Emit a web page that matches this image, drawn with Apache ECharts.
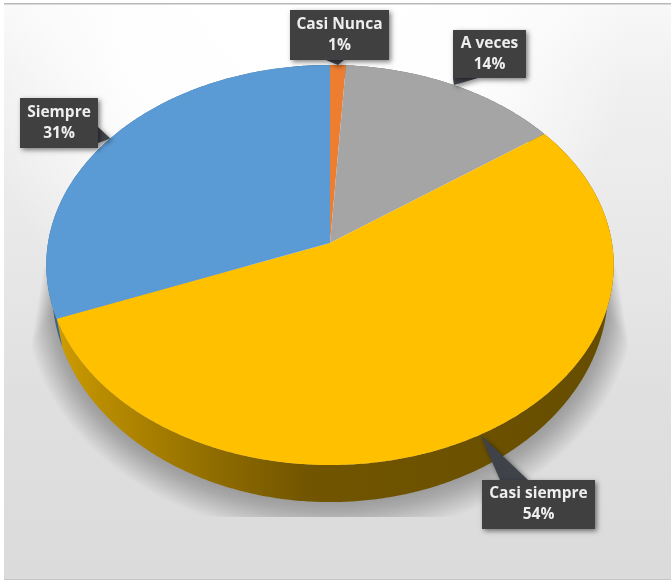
<!DOCTYPE html>
<html>
<head>
<meta charset="utf-8">
<style>html,body{margin:0;padding:0;background:#fff}#chart{width:671px;height:581px}</style>
<script src="https://cdn.jsdelivr.net/npm/echarts@6/dist/echarts.min.js"></script>
</head>
<body>
<div id="chart"></div>
<script>
// Survey answers, clockwise from twelve o'clock
const categories = ['Casi Nunca', 'A veces', 'Casi siempre', 'Siempre'];
const percentages = [1, 14, 54, 31];
const sliceColors = ['#ED7D31', '#A5A5A5', '#FFC000', '#5B9BD5'];

// Perspective disc: the tilted top face and the smaller bottom face
const TILT = 0.11;
const topFace = { cx: 330, cy: 243, a: 282, b: 197.6 };
const bottomFace = { cx: 330, cy: 266.7, a: 276.3, b: 209.5 };

// Callout boxes around the disc, with the base of each pointer
const callouts = [
  { x: 290, y: 10, w: 99, h: 50, base: [[326, 60], [344, 60]] },
  { x: 453, y: 30, w: 73, h: 48, base: [[478, 78], [453, 78]] },
  { x: 482, y: 480, w: 113, h: 49, base: [[500, 480], [528, 480]] },
  { x: 20, y: 98, w: 78, h: 50, base: [[98, 127], [98, 143]] }
];

const total = percentages.reduce((s, v) => s + v, 0);
let running = 0;
const sliceRows = percentages.map((v, i) => {
  const start = running / total * 360;
  running += v;
  return [start, running / total * 360, i];
});

function project(face, deg) {
  const t = deg * Math.PI / 180;
  const u = Math.sin(t), v = -Math.cos(t);
  const w = 1 - TILT * v;
  return [face.cx + face.a * u / w, face.cy + face.b * v / w];
}

function arc(face, from, to) {
  const pts = [];
  const n = Math.max(2, Math.ceil((to - from) * 2));
  for (let k = 0; k <= n; k++) pts.push(project(face, from + (to - from) * k / n));
  return pts;
}

const sideFills = [
  '#8a4a1c',
  '#666666',
  new echarts.graphic.LinearGradient(57, 0, 613, 0, [
    { offset: 0, color: '#cf9c00' },
    { offset: 0.08, color: '#b98c00' },
    { offset: 0.3, color: '#8c6a00' },
    { offset: 0.45, color: '#715500' },
    { offset: 1, color: '#674d00' }
  ], true),
  '#39648c'
];

// Panel background, its rules, and the soft shadow the disc casts on it
function renderBackdrop() {
  const panel = { x: 4, y: 3, width: 667, height: 577 };
  const children = [
    {
      type: 'rect',
      shape: panel,
      style: {
        fill: new echarts.graphic.LinearGradient(0, 0, 0, 1, [
          { offset: 0, color: '#f8f8f8' },
          { offset: 0.14, color: '#f0f0f0' },
          { offset: 0.46, color: '#e7e7e7' },
          { offset: 0.69, color: '#dfdfdf' },
          { offset: 1, color: '#dbdbdb' }
        ])
      }
    },
    {
      type: 'rect',
      shape: panel,
      style: {
        fill: new echarts.graphic.RadialGradient(300, 40, 330, [
          { offset: 0, color: 'rgba(255,255,255,1)' },
          { offset: 0.55, color: 'rgba(255,255,255,0.9)' },
          { offset: 1, color: 'rgba(255,255,255,0)' }
        ], true)
      }
    },
    { type: 'rect', shape: { x: 4, y: 3, width: 667, height: 1.5 }, style: { fill: '#b8b8b8' } },
    { type: 'rect', shape: { x: 4, y: 579, width: 667, height: 1 }, style: { fill: '#c6c6c6' } }
  ];
  const layers = 26;
  for (let i = 0; i < layers; i++) {
    const f = i / (layers - 1);
    const rx = 305 - 30 * f, ry = 237 - 30 * f, cy = 300 - 8 * f;
    const pts = [];
    for (let d = 0; d <= 360; d += 2) {
      const r = d * Math.PI / 180;
      const y = cy + ry * Math.sin(r);
      if (y < 265) continue;
      // The shadow widens gradually below the disc's widest point
      const spread = 287 + (y - 270) * 0.16 - 18 * f;
      const dx = Math.max(-spread, Math.min(spread, rx * Math.cos(r)));
      pts.push([330 + dx, Math.min(y, 517)]);
    }
    children.push({ type: 'polygon', shape: { points: pts }, style: { fill: 'rgba(0,0,0,0.0105)' } });
  }
  return { type: 'group', children };
}

function renderSide(params, api) {
  const from = api.value(0), to = api.value(1), i = api.value(2);
  const pts = arc(topFace, from, to).concat(arc(bottomFace, from, to).reverse());
  return { type: 'polygon', shape: { points: pts }, style: { fill: sideFills[i] } };
}

function renderTop(params, api) {
  const from = api.value(0), to = api.value(1), i = api.value(2);
  const pts = [[topFace.cx, topFace.cy]].concat(arc(topFace, from, to));
  return { type: 'polygon', shape: { points: pts }, style: { fill: sliceColors[i] } };
}

function renderCallout(params, api) {
  const from = api.value(0), to = api.value(1), i = api.value(2);
  const box = callouts[i];
  const tip = project(topFace, (from + to) / 2);
  const shade = { shadowBlur: 5, shadowOffsetX: 2, shadowOffsetY: 2, shadowColor: 'rgba(0,0,0,0.5)' };
  return {
    type: 'group',
    children: [
      { type: 'polygon', shape: { points: [tip, box.base[0], box.base[1]] }, style: Object.assign({ fill: '#40424a' }, shade) },
      { type: 'rect', shape: { x: box.x, y: box.y, width: box.w, height: box.h }, style: Object.assign({ fill: '#404040' }, shade) },
      {
        type: 'text',
        style: {
          text: categories[i] + '\n' + percentages[i] + '%',
          x: box.x + box.w / 2,
          y: box.y + box.h / 2,
          align: 'center',
          verticalAlign: 'middle',
          fill: '#eeeeee',
          font: 'bold 15.5px "Open Sans", sans-serif',
          lineHeight: 21
        }
      }
    ]
  };
}

const chart = echarts.init(document.getElementById('chart'), null, { renderer: 'canvas' });
const layer = (name, data, renderItem) => ({
  type: 'custom', name, coordinateSystem: 'none', data, renderItem, silent: true, animation: false
});
chart.setOption({
  animation: false,
  backgroundColor: '#ffffff',
  series: [
    layer('backdrop', [[0]], renderBackdrop),
    layer('sides', sliceRows, renderSide),
    layer('tops', sliceRows, renderTop),
    layer('callouts', sliceRows, renderCallout)
  ]
});
</script>
</body>
</html>
